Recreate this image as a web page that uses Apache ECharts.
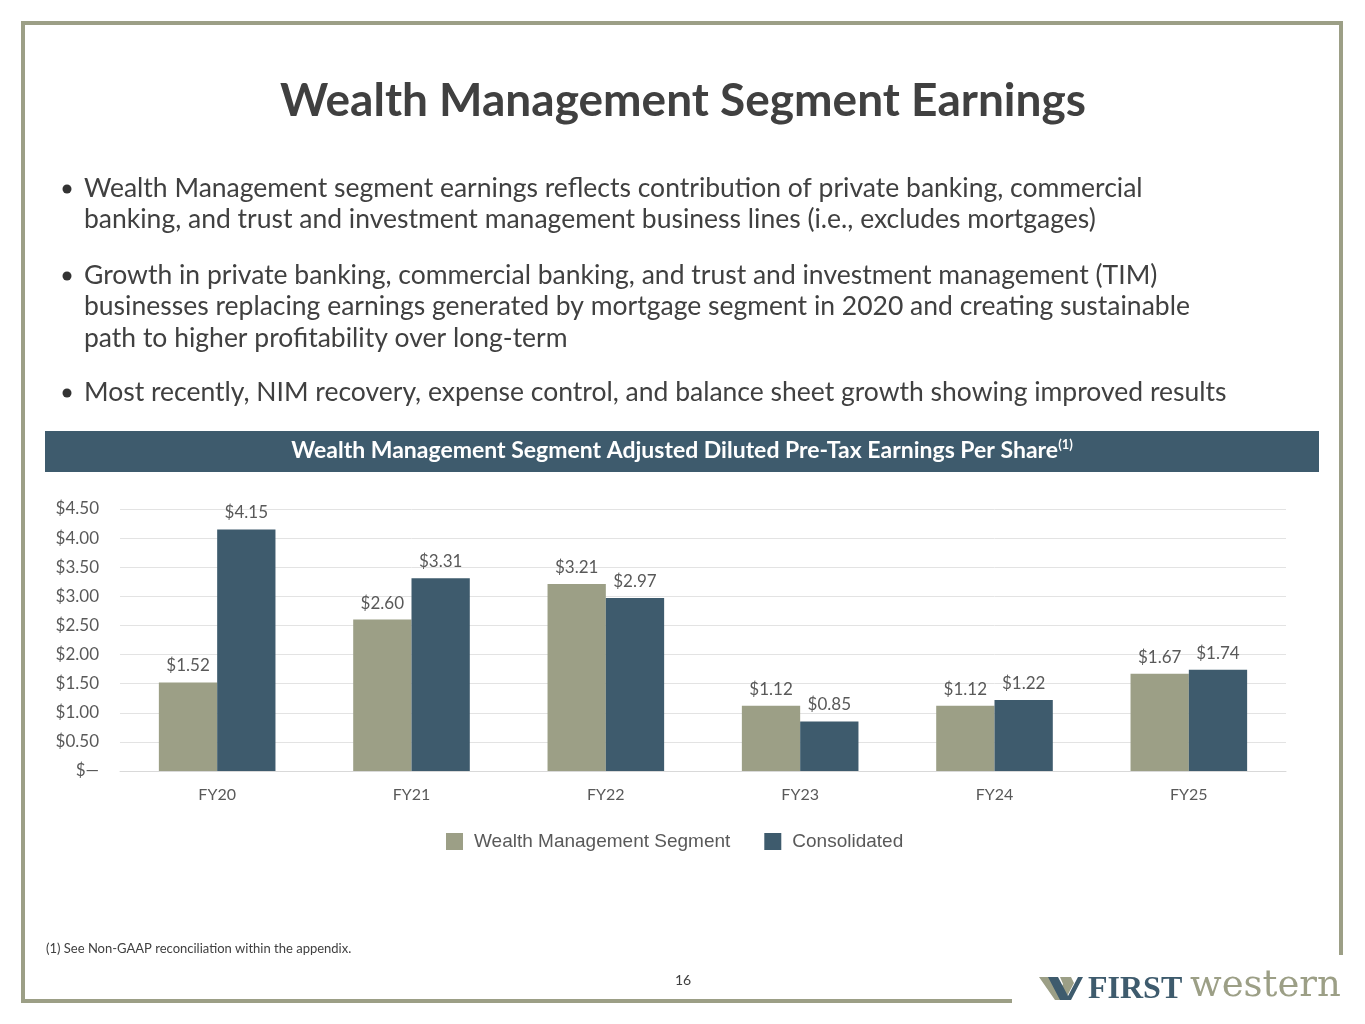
<!DOCTYPE html>
<html>
<head>
<meta charset="utf-8">
<script src="https://cdn.jsdelivr.net/npm/echarts@6/dist/echarts.min.js"></script>
<style>
html,body{margin:0;padding:0;background:#fff;}
#chart{width:1365px;height:1024px;}
</style>
</head>
<body>
<div id="chart"></div>
<script>
const categories = ['FY20','FY21','FY22','FY23','FY24','FY25'];
const wealthMgmt = [1.52, 2.60, 3.21, 1.12, 1.12, 1.67];
const consolidated = [4.15, 3.31, 2.97, 0.85, 1.22, 1.74];
const seriesNames = ['Wealth Management Segment', 'Consolidated'];
const yTicks = { min: 0, max: 4.5, interval: 0.5 };

const GREEN = '#9c9f86';
const BLUE = '#3e5b6d';
const TEXT = '#404040';

const chart = echarts.init(document.getElementById('chart'));

const bullets = [
  { y: 188, lines: ['Wealth Management segment earnings reflects contribution of private banking, commercial', 'banking, and trust and investment management business lines (i.e., excludes mortgages)'] },
  { y: 275, lines: ['Growth in private banking, commercial banking, and trust and investment management (TIM)', 'businesses replacing earnings generated by mortgage segment in 2020 and creating sustainable', 'path to higher profitability over long-term'] },
  { y: 392, lines: ['Most recently, NIM recovery, expense control, and balance sheet growth showing improved results'] }
];

const graphics = [];
// frame
graphics.push({ type: 'polyline', shape: { points: [[1341, 955], [1341, 23], [23, 23], [23, 1001], [1012, 1001]] }, style: { stroke: GREEN, lineWidth: 4, fill: null }, z: 10 });
// title
graphics.push({ type: 'text', x: 683, y: 101, style: { text: 'Wealth Management Segment Earnings', font: 'bold 46px Lato', fill: TEXT, textAlign: 'center', textVerticalAlign: 'middle' } });
// bullets
bullets.forEach(b => {
  graphics.push({ type: 'circle', shape: { cx: 67, cy: b.y + 1, r: 4.5 }, style: { fill: '#333' } });
  b.lines.forEach((ln, i) => {
    graphics.push({ type: 'text', x: 84, y: b.y + i * 31.5, style: { text: ln, font: '26.5px Lato', fill: TEXT, textAlign: 'left', textVerticalAlign: 'middle' } });
  });
});
// band
graphics.push({ type: 'rect', shape: { x: 45, y: 431, width: 1274, height: 41 }, style: { fill: BLUE } });
graphics.push({ type: 'text', x: 682, y: 451, style: {
  text: '{m|Wealth Management Segment Adjusted Diluted Pre-Tax Earnings Per Share}{s|(1)}',
  textAlign: 'center', textVerticalAlign: 'middle',
  rich: {
    m: { font: 'bold 23px Lato', fill: '#fff', color: '#fff' },
    s: { font: 'bold 13px Lato', fill: '#fff', color: '#fff', verticalAlign: 'top', padding: [0, 0, 12, 0] }
  }
} });
// footnote & page
graphics.push({ type: 'text', x: 46, y: 949, style: { text: '(1) See Non-GAAP reconciliation within the appendix.', font: '13px Lato', fill: TEXT, textVerticalAlign: 'middle' } });
graphics.push({ type: 'text', x: 683, y: 980, style: { text: '16', font: '14px Lato', fill: TEXT, textAlign: 'center', textVerticalAlign: 'middle' } });
// logo
graphics.push({ type: 'polygon', shape: { points: [[1039, 977], [1051, 977], [1059, 992], [1063, 984], [1060, 977], [1071, 977], [1074, 983], [1065, 1000], [1055, 1000]] }, style: { fill: GREEN } });
graphics.push({ type: 'polygon', shape: { points: [[1048, 977], [1058, 977], [1068, 996], [1078, 977], [1083, 977], [1071, 1000], [1060, 1000]] }, style: { fill: BLUE } });
graphics.push({ type: 'text', x: 1088, y: 990, style: { text: 'FIRST', font: 'bold 32px "Liberation Serif"', fill: BLUE, textVerticalAlign: 'middle' } });
graphics.push({ type: 'text', x: 1190, y: 986, style: { text: 'western', font: '37px "DejaVu Serif"', fill: GREEN, textVerticalAlign: 'middle' } });

const labelStyle = { show: true, position: 'top', distance: 8, fontFamily: 'Lato', fontSize: 17, color: '#595959', formatter: p => '$' + p.value.toFixed(2) };

chart.setOption({
  animation: false,
  textStyle: { fontFamily: 'Lato' },
  grid: { left: 120, right: 79, top: 509, bottom: 253, containLabel: false },
  legend: {
    data: seriesNames, left: 446, top: 832, padding: 0, itemWidth: 17, itemHeight: 17, itemGap: 34,
    icon: 'rect',
    textStyle: { fontFamily: '"Liberation Sans", Arial', fontSize: 19, color: '#595959', padding: [0, 0, 0, 6] }
  },
  xAxis: {
    type: 'category', data: categories,
    axisLine: { lineStyle: { color: '#d9d9d9', width: 1 } },
    axisTick: { show: false },
    axisLabel: { fontFamily: 'Lato', fontSize: 16, color: '#595959', margin: 16 }
  },
  yAxis: {
    type: 'value', min: yTicks.min, max: yTicks.max, interval: yTicks.interval,
    axisLine: { show: false }, axisTick: { show: false },
    splitLine: { lineStyle: { color: '#e3e3e3', width: 1 } },
    axisLabel: { fontFamily: 'Lato', fontSize: 17, color: '#595959', margin: 21, formatter: v => v === 0 ? '$—' : '$' + v.toFixed(2) }
  },
  series: [
    { name: seriesNames[0], type: 'bar', data: wealthMgmt, barGap: '0%', barCategoryGap: '40%', itemStyle: { color: GREEN }, label: labelStyle },
    { name: seriesNames[1], type: 'bar', data: consolidated, itemStyle: { color: BLUE }, label: labelStyle }
  ],
  graphic: graphics
});
</script>
</body>
</html>
